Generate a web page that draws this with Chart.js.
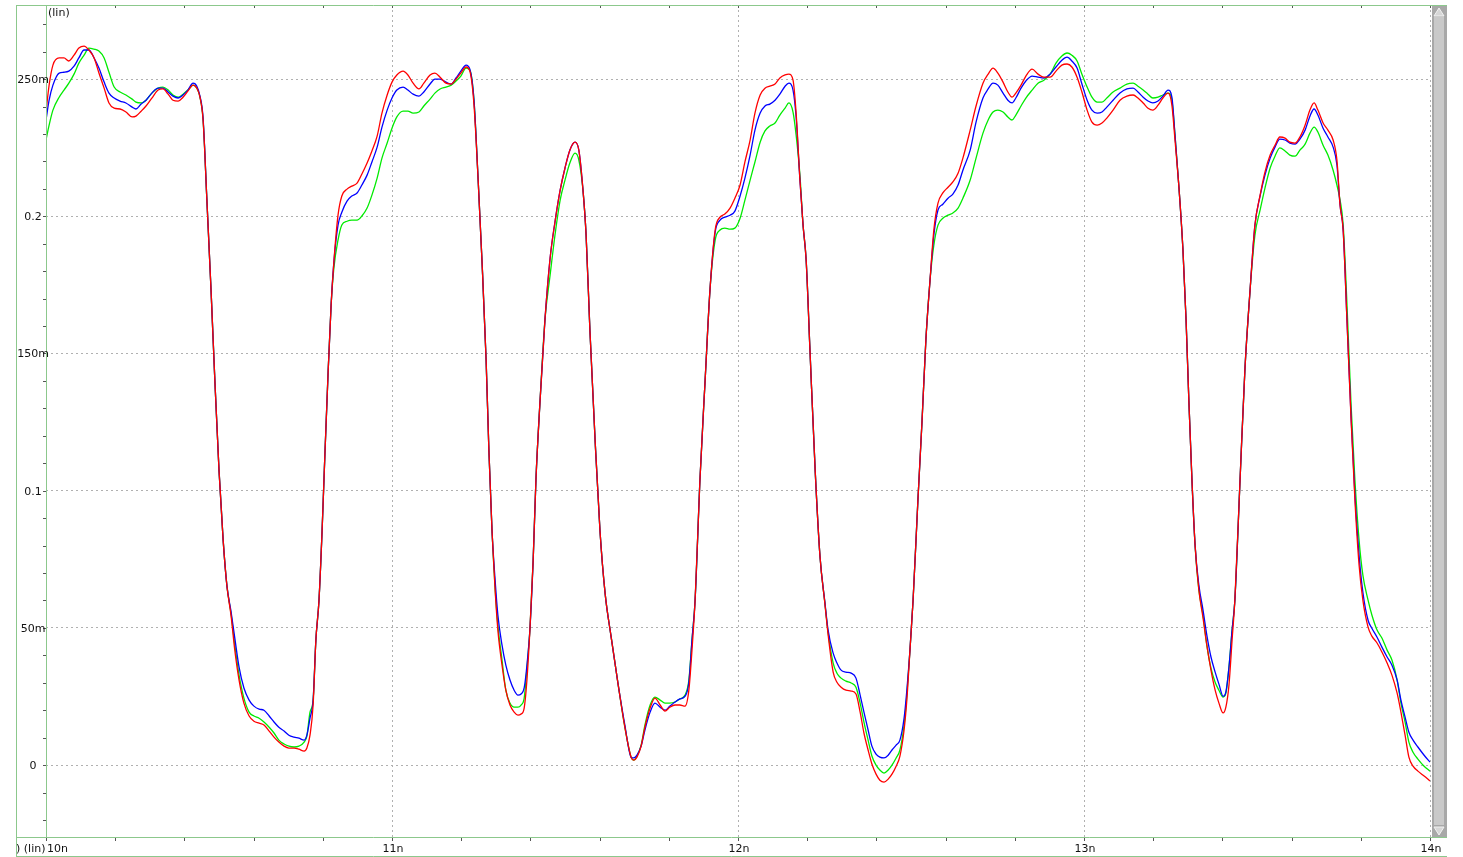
<!DOCTYPE html>
<html>
<head>
<meta charset="utf-8">
<script src="https://cdn.jsdelivr.net/npm/chart.js@4/dist/chart.umd.min.js"></script>
<style>
  html, body { margin: 0; padding: 0; background: #fff; overflow: hidden; }
  canvas { display: block; }
</style>
</head>
<body>
<canvas id="wave" width="1463" height="857"></canvas>
<script>
// Sample times (ns), shared by the three traces
const timeNs = [
  10.000,10.009,10.020,10.038,10.052,10.066,10.081,10.095,10.110,10.124,10.139,10.153,10.168,10.182,10.197,10.214,10.231,10.249,10.260,10.275,
  10.289,10.306,10.324,10.338,10.353,10.367,10.382,10.396,10.410,10.425,10.436,10.445,10.454,10.465,10.477,10.488,10.500,10.512,10.523,10.535,
  10.546,10.558,10.572,10.587,10.601,10.616,10.630,10.645,10.659,10.673,10.688,10.702,10.717,10.731,10.746,10.754,10.763,10.772,10.780,10.789,
  10.798,10.806,10.815,10.824,10.832,10.844,10.855,10.870,10.884,10.899,10.913,10.928,10.942,10.957,10.971,10.986,11.000,11.014,11.032,11.046,
  11.061,11.078,11.092,11.110,11.124,11.139,11.156,11.171,11.185,11.199,11.214,11.225,11.237,11.249,11.260,11.272,11.280,11.289,11.298,11.306,
  11.318,11.329,11.341,11.353,11.364,11.373,11.382,11.390,11.399,11.408,11.416,11.428,11.442,11.457,11.471,11.486,11.500,11.514,11.529,11.540,
  11.552,11.561,11.572,11.587,11.601,11.616,11.633,11.653,11.673,11.691,11.699,11.708,11.720,11.731,11.746,11.760,11.775,11.789,11.803,11.818,
  11.832,11.847,11.858,11.867,11.876,11.890,11.905,11.919,11.934,11.948,11.962,11.977,11.991,12.006,12.020,12.035,12.049,12.064,12.078,12.092,
  12.107,12.121,12.136,12.147,12.159,12.168,12.179,12.188,12.197,12.208,12.223,12.237,12.251,12.260,12.275,12.286,12.298,12.312,12.327,12.341,
  12.353,12.364,12.376,12.387,12.399,12.410,12.422,12.434,12.445,12.457,12.468,12.480,12.488,12.497,12.506,12.520,12.532,12.543,12.555,12.566,
  12.578,12.592,12.607,12.621,12.636,12.650,12.671,12.688,12.708,12.723,12.737,12.751,12.766,12.780,12.792,12.803,12.818,12.832,12.850,12.867,
  12.884,12.902,12.919,12.936,12.951,12.965,12.980,12.994,13.009,13.023,13.038,13.052,13.066,13.084,13.104,13.124,13.142,13.156,13.171,13.185,
  13.199,13.214,13.228,13.243,13.254,13.263,13.275,13.286,13.295,13.303,13.312,13.321,13.332,13.344,13.355,13.367,13.379,13.390,13.402,13.410,
  13.419,13.428,13.436,13.451,13.465,13.480,13.494,13.509,13.523,13.538,13.552,13.566,13.581,13.595,13.610,13.624,13.639,13.653,13.665,13.676,
  13.691,13.705,13.720,13.731,13.740,13.749,13.760,13.772,13.783,13.795,13.806,13.821,13.832,13.847,13.861,13.876,13.890,13.905,13.916,13.928,
  13.939,13.951,13.965,13.983,14.000
];

// Trace values in mV
const traceRed = [
  238.0,247.8,255.1,257.7,257.7,256.6,258.7,261.3,262.0,260.6,257.7,252.2,246.7,241.3,239.4,239.1,238.0,236.2,236.5,238.3,
  240.2,243.1,246.0,246.4,244.5,242.3,242.0,243.4,245.6,247.8,246.7,243.4,235.1,205.9,173.1,140.3,107.5,82.0,65.2,54.3,
  41.5,31.0,22.6,17.9,16.0,15.3,14.6,12.4,10.2,8.4,6.9,6.2,6.2,5.8,5.1,6.2,10.9,21.9,45.6,60.1,
  85.6,113.0,142.1,167.6,183.3,200.4,207.4,209.9,211.0,212.1,215.4,219.4,223.8,229.2,237.6,244.2,248.9,251.5,252.9,251.5,
  248.5,246.4,248.5,251.5,252.2,250.7,248.5,248.2,250.0,252.2,254.4,252.9,240.5,213.2,184.0,147.6,114.8,85.6,63.8,49.2,
  36.4,27.3,21.9,19.3,18.2,18.6,20.8,31.0,50.3,74.7,103.9,133.0,162.2,184.8,197.9,209.5,217.6,224.1,227.0,224.1,
  209.5,193.1,158.5,118.4,85.6,62.5,47.0,29.9,13.8,2.9,1.8,2.9,6.9,13.8,20.8,24.4,21.9,19.7,21.1,21.9,
  21.9,21.5,27.3,41.9,60.1,103.9,140.3,173.1,195.0,199.7,200.8,203.0,206.6,211.4,219.8,227.8,237.6,244.2,246.7,247.4,
  248.2,250.4,251.5,251.8,249.6,237.6,213.2,196.8,184.0,151.2,107.5,76.0,59.0,48.0,33.9,30.2,28.4,27.3,27.0,25.9,
  19.3,11.7,5.5,0.4,-3.3,-5.5,-6.2,-5.1,-3.3,-0.4,3.3,12.8,23.7,41.9,60.1,96.6,125.7,154.9,176.7,195.0,
  204.8,208.5,210.6,212.5,215.7,221.2,231.4,240.2,248.5,251.8,254.0,252.2,248.9,245.3,243.4,244.9,247.8,251.1,253.6,251.8,
  250.7,250.7,252.9,255.1,255.5,254.4,250.7,245.3,238.7,234.3,233.2,234.0,235.8,238.7,242.3,243.8,244.2,243.1,241.3,239.4,
  238.7,240.5,243.1,244.9,240.5,227.8,209.5,187.7,162.2,133.0,103.9,80.2,63.8,53.6,43.7,34.6,27.3,22.6,19.0,21.1,
  29.2,45.6,60.1,103.9,144.0,173.1,196.8,207.7,216.1,222.3,225.9,228.9,228.5,227.0,226.7,228.9,233.2,238.7,241.3,238.7,
  234.0,231.4,227.8,220.5,204.1,195.0,162.2,125.7,96.6,72.9,60.1,50.3,47.0,44.5,41.2,37.2,32.8,26.2,19.3,10.9,
  2.9,-0.4,-2.2,-4.0,-5.8
];

const traceBlue = [
  235.1,242.3,247.8,252.2,252.5,252.9,254.7,257.7,260.6,260.6,257.7,254.0,248.9,244.9,243.1,242.0,241.3,239.8,239.1,240.9,
  242.3,244.9,246.7,246.7,245.3,243.8,243.1,244.2,246.0,248.5,247.4,243.8,235.8,205.9,173.1,140.3,107.5,82.0,65.2,55.8,
  46.0,35.7,28.1,23.7,21.5,20.4,20.0,17.9,15.7,13.8,12.4,10.9,10.2,9.8,9.1,10.9,17.1,23.7,45.6,60.1,
  85.6,113.0,142.1,167.6,183.3,196.8,201.5,205.5,207.4,208.5,211.4,215.0,219.8,225.2,232.5,238.7,243.1,246.0,247.1,246.0,
  244.5,243.8,245.3,248.2,250.0,250.0,248.9,248.2,250.4,252.9,255.1,253.6,242.3,213.2,184.0,147.6,114.8,85.6,67.4,54.7,
  43.7,36.4,31.0,27.3,25.5,25.9,28.1,36.4,50.3,74.7,103.9,133.0,162.2,184.8,197.9,209.5,217.6,224.1,227.0,224.1,
  209.5,193.1,158.5,118.4,85.6,62.5,47.0,29.9,14.6,2.9,2.6,3.6,6.9,12.8,19.3,22.6,21.1,20.0,21.5,23.0,
  24.1,25.1,30.2,45.6,60.1,103.9,140.3,173.1,194.2,198.6,199.7,200.4,201.9,207.4,213.9,222.3,231.4,237.6,240.2,240.9,
  242.3,244.5,247.4,248.5,246.0,236.2,213.2,196.8,184.0,151.2,107.5,76.0,59.5,49.5,40.8,37.2,34.6,33.9,33.5,31.7,
  25.5,19.3,12.8,6.9,4.0,2.9,2.6,3.6,5.5,7.3,9.1,17.1,27.3,41.9,60.1,96.6,125.7,154.9,176.7,193.1,
  202.3,204.4,206.6,208.1,211.4,216.8,224.1,234.3,243.1,246.4,248.5,247.8,244.9,242.3,241.3,243.1,246.7,249.3,251.1,250.7,
  250.4,251.8,254.4,256.9,258.0,256.6,254.0,248.2,242.3,238.7,237.6,238.0,239.8,242.3,244.9,246.4,246.7,245.3,243.4,242.0,
  241.3,242.0,243.8,246.0,243.4,229.6,209.5,187.7,162.2,133.0,103.9,80.2,65.6,56.5,47.4,39.4,33.9,29.5,25.1,26.6,
  35.7,49.2,60.1,103.9,144.0,173.1,196.8,207.4,215.0,221.2,225.2,228.1,227.8,226.7,226.3,228.1,231.4,236.5,239.1,236.9,
  232.1,228.9,225.2,218.7,204.1,195.0,162.2,126.5,98.4,76.5,63.0,52.8,49.9,46.6,43.0,39.4,36.4,31.0,23.7,17.5,
  12.0,9.1,6.6,3.6,1.1
];

const traceGreen = [
  227.8,233.2,238.7,243.4,246.0,248.5,251.8,255.8,258.7,261.3,260.9,260.2,257.7,252.5,247.1,245.3,244.2,242.7,241.6,241.3,
  242.3,244.9,246.7,247.1,246.0,244.2,243.4,244.5,246.0,247.8,246.7,243.4,235.1,205.9,173.1,140.3,107.5,82.0,65.2,55.0,
  43.5,32.8,24.4,19.3,17.9,17.1,15.7,13.8,11.7,9.1,7.7,6.9,6.6,6.9,8.4,10.6,19.3,23.7,45.6,60.1,
  85.6,113.0,142.1,167.6,181.1,191.3,196.8,198.2,198.6,198.6,200.1,203.0,207.7,213.9,221.2,226.7,232.1,236.2,238.3,238.3,
  237.6,238.0,240.2,242.7,244.9,246.4,247.1,247.8,249.3,251.1,254.0,253.3,242.3,213.2,184.0,147.6,114.8,85.6,64.5,51.0,
  38.3,27.3,22.6,21.1,21.1,21.9,24.4,35.3,50.3,74.7,103.9,133.0,162.2,178.6,193.1,205.9,213.2,219.4,223.0,220.5,
  209.5,193.1,158.5,118.4,85.6,62.5,47.0,29.9,13.8,2.9,1.8,3.3,7.3,14.6,21.9,24.8,23.7,22.6,22.6,23.0,
  24.1,25.5,31.0,45.6,60.1,103.9,140.3,173.1,191.3,195.0,195.7,195.3,195.7,199.3,205.9,213.2,219.8,227.0,231.1,232.9,
  234.0,236.9,239.4,241.3,238.0,229.6,215.0,196.8,184.0,151.2,107.5,76.0,59.2,48.7,37.2,33.5,31.7,30.6,29.9,28.4,
  22.6,15.7,9.1,3.3,0.0,-1.8,-2.9,-1.8,0.0,2.6,5.5,14.6,25.5,41.9,60.1,96.6,125.7,154.9,176.7,189.5,
  196.8,199.3,200.4,201.2,203.0,206.6,213.2,221.2,230.3,235.1,238.0,238.7,238.0,236.2,235.1,236.9,240.2,243.1,246.0,248.5,
  249.6,251.8,255.8,258.4,259.5,258.7,256.6,251.8,247.1,243.4,241.6,241.6,243.1,245.3,246.7,248.2,248.5,247.4,246.0,244.5,
  243.1,243.4,244.2,244.9,242.3,229.6,209.5,187.7,162.2,133.0,103.9,80.2,63.8,54.7,43.7,35.3,30.2,27.3,24.8,26.2,
  35.7,49.2,60.1,103.9,144.0,173.1,193.1,202.3,210.3,217.6,221.9,224.9,223.8,222.3,221.9,224.1,226.3,230.3,232.5,230.7,
  225.9,222.3,216.8,211.4,206.0,197.0,168.0,131.0,103.9,82.0,69.2,60.1,54.7,49.2,46.3,41.9,38.3,31.0,22.6,15.7,
  8.4,4.7,2.2,-0.4,-2.2
];

// Axis ticks and labels
const yTicks = [0, 50, 100, 150, 200, 250];
const yTickLabels = ['0', '50m', '0.1', '150m', '0.2', '250m'];
const xTicks = [10, 11, 12, 13, 14];
const xTickLabels = ['10n', '11n', '12n', '13n', '14n'];
const yMinorStep = 10;   // mV
const xMinorStep = 0.2;  // ns
const yRange = [-26.2, 277];
const xRange = [10, 14];

if (traceRed.length !== timeNs.length || traceBlue.length !== timeNs.length || traceGreen.length !== timeNs.length) {
  throw new Error('length mismatch: t=' + timeNs.length + ' r=' + traceRed.length + ' b=' + traceBlue.length + ' g=' + traceGreen.length);
}

const FRAME = 'rgb(140,200,140)';
const FONT = '11px "DejaVu Sans"';

function trace(values, color, order) {
  return {
    data: timeNs.map((t, i) => ({ x: t, y: values[i] })),
    borderColor: color,
    borderWidth: 1.3,
    pointRadius: 0,
    fill: false,
    cubicInterpolationMode: 'monotone',
    order: order
  };
}

// Frame, minor ticks, text and scrollbar of the waveform window
const decorations = {
  id: 'decorations',
  afterDraw(chart) {
    const { ctx, chartArea: a, scales: { x, y } } = chart;
    const H = chart.height;
    ctx.save();

    // minor ticks
    ctx.strokeStyle = '#555';
    ctx.lineWidth = 1;
    ctx.beginPath();
    for (let v = Math.ceil(yRange[0] / yMinorStep) * yMinorStep; v <= yRange[1]; v += yMinorStep) {
      const py = Math.round(y.getPixelForValue(v)) + 0.5;
      ctx.moveTo(a.left - 3, py); ctx.lineTo(a.left, py);
    }
    for (let v = xRange[0]; v <= xRange[1] + 1e-9; v += xMinorStep) {
      const px = Math.round(x.getPixelForValue(v)) + 0.5;
      ctx.moveTo(px, a.bottom); ctx.lineTo(px, a.bottom + 4);
      ctx.moveTo(px, a.top); ctx.lineTo(px, a.top + 3);
    }
    ctx.stroke();

    // green frame lines
    ctx.strokeStyle = FRAME;
    ctx.beginPath();
    ctx.moveTo(16.5, a.top); ctx.lineTo(16.5, H);
    ctx.moveTo(a.left + 0.5, a.top); ctx.lineTo(a.left + 0.5, a.bottom);
    ctx.moveTo(16, a.top + 0.5); ctx.lineTo(1447, a.top + 0.5);
    ctx.moveTo(16, a.bottom + 0.5); ctx.lineTo(1447, a.bottom + 0.5);
    ctx.moveTo(16, H - 0.5); ctx.lineTo(1447, H - 0.5);
    ctx.stroke();

    // scrollbar on the right
    const sx = a.right + 2, sw = 15;
    ctx.fillStyle = '#a8a8a8';
    ctx.fillRect(sx, a.top + 1, sw, a.bottom - a.top - 1);
    ctx.fillStyle = '#c9c9c9';
    ctx.fillRect(sx + 2, a.top + 12, sw - 5, a.bottom - a.top - 24);
    ctx.fillStyle = '#d6d6d6';
    ctx.strokeStyle = '#f2f2f2';
    const cx = sx + sw / 2 - 0.5;
    ctx.beginPath();
    ctx.moveTo(cx, a.top + 3); ctx.lineTo(cx + 5, a.top + 11); ctx.lineTo(cx - 5, a.top + 11); ctx.closePath();
    ctx.fill(); ctx.stroke();
    ctx.beginPath();
    ctx.moveTo(cx, a.bottom - 2); ctx.lineTo(cx + 5, a.bottom - 10); ctx.lineTo(cx - 5, a.bottom - 10); ctx.closePath();
    ctx.fill(); ctx.stroke();

    // text
    ctx.fillStyle = '#111';
    ctx.font = FONT;
    ctx.textBaseline = 'middle';
    ctx.textAlign = 'center';
    yTicks.forEach((v, i) => {
      ctx.fillText(yTickLabels[i], 33, y.getPixelForValue(v) + 1);
    });
    xTicks.forEach((v, i) => {
      const px = x.getPixelForValue(v);
      ctx.textAlign = i === 0 ? 'left' : 'center';
      ctx.fillText(xTickLabels[i], px + 1, 849);
    });
    ctx.textAlign = 'left';
    ctx.fillText('(lin)', a.left + 2, 13);
    ctx.fillText(') (lin)', 16, 849);
    ctx.restore();
  }
};

new Chart(document.getElementById('wave'), {
  type: 'line',
  data: {
    datasets: [
      trace(traceRed, 'rgb(255,0,0)', 0),
      trace(traceBlue, 'rgb(0,0,255)', 1),
      trace(traceGreen, 'rgb(0,235,0)', 2)
    ]
  },
  options: {
    responsive: false,
    animation: false,
    devicePixelRatio: 1,
    layout: { padding: { left: 0, top: 5, right: 33, bottom: 0 } },
    plugins: { legend: { display: false }, tooltip: { enabled: false } },
    scales: {
      x: {
        type: 'linear',
        min: xRange[0],
        max: xRange[1],
        afterBuildTicks: s => { s.ticks = xTicks.map(v => ({ value: v })); },
        afterFit: s => { s.height = 20; },
        ticks: { display: false },
        grid: { color: '#b0b0b0', lineWidth: 1, drawTicks: false },
        border: { display: false, dash: [2, 3] }
      },
      y: {
        type: 'linear',
        min: yRange[0],
        max: yRange[1],
        afterBuildTicks: s => { s.ticks = yTicks.map(v => ({ value: v })); },
        afterFit: s => { s.width = 46; },
        ticks: { display: false },
        grid: { color: '#b0b0b0', lineWidth: 1, drawTicks: false },
        border: { display: false, dash: [2, 3] }
      }
    }
  },
  plugins: [decorations]
});
</script>
</body>
</html>
